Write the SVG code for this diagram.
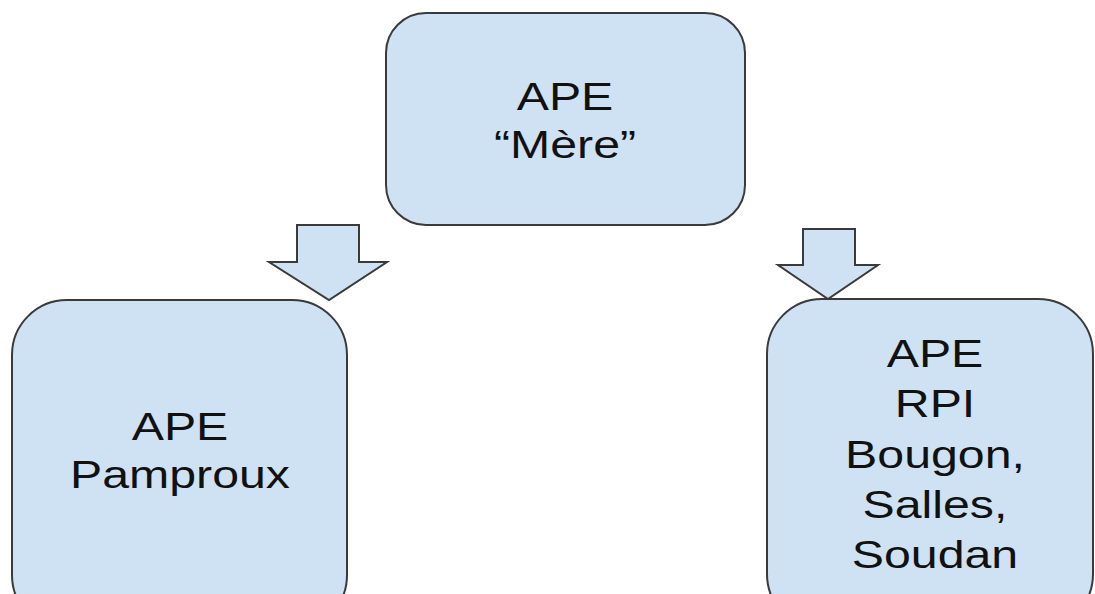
<svg xmlns="http://www.w3.org/2000/svg" width="1095" height="594" viewBox="0 0 1095 594">
<style>
.box{fill:#cfe2f3;stroke:#3a3a3a;stroke-width:2}
.arr{fill:#cfe2f3;stroke:#3a3a3a;stroke-width:2;stroke-linejoin:miter}
text{font-family:"Liberation Sans",Arial,sans-serif;font-size:38px;fill:#111;text-anchor:middle}
</style>
<rect width="1095" height="594" fill="#ffffff"/>
<g id="mere">
<rect class="box" x="386" y="13" width="359" height="212" rx="40" ry="40"/>
<g transform="translate(565,0) scale(1.27,1)">
<text x="0" y="110">APE</text>
<text x="0" y="158">“Mère”</text>
</g>
</g>
<g id="pamproux">
<rect class="box" x="12" y="300" width="335" height="330" rx="55" ry="55"/>
<g transform="translate(180,0) scale(1.27,1)">
<text x="0" y="440">APE</text>
<text x="0" y="488">Pamproux</text>
</g>
</g>
<g id="rpi">
<rect class="box" x="767" y="299" width="326" height="330" rx="55" ry="55"/>
<g transform="translate(935,0) scale(1.27,1)">
<text x="0" y="367">APE</text>
<text x="0" y="417">RPI</text>
<text x="0" y="468">Bougon,</text>
<text x="0" y="518">Salles,</text>
<text x="0" y="568">Soudan</text>
</g>
</g>
<g id="connectors">
<path class="arr" d="M297 225 H359 V262 H387 L329 300 L269 262 H297 Z"/>
<path class="arr" d="M803 229 H855 V265 H878 L828 299 L778 265 H803 Z"/>
</g>
</svg>
